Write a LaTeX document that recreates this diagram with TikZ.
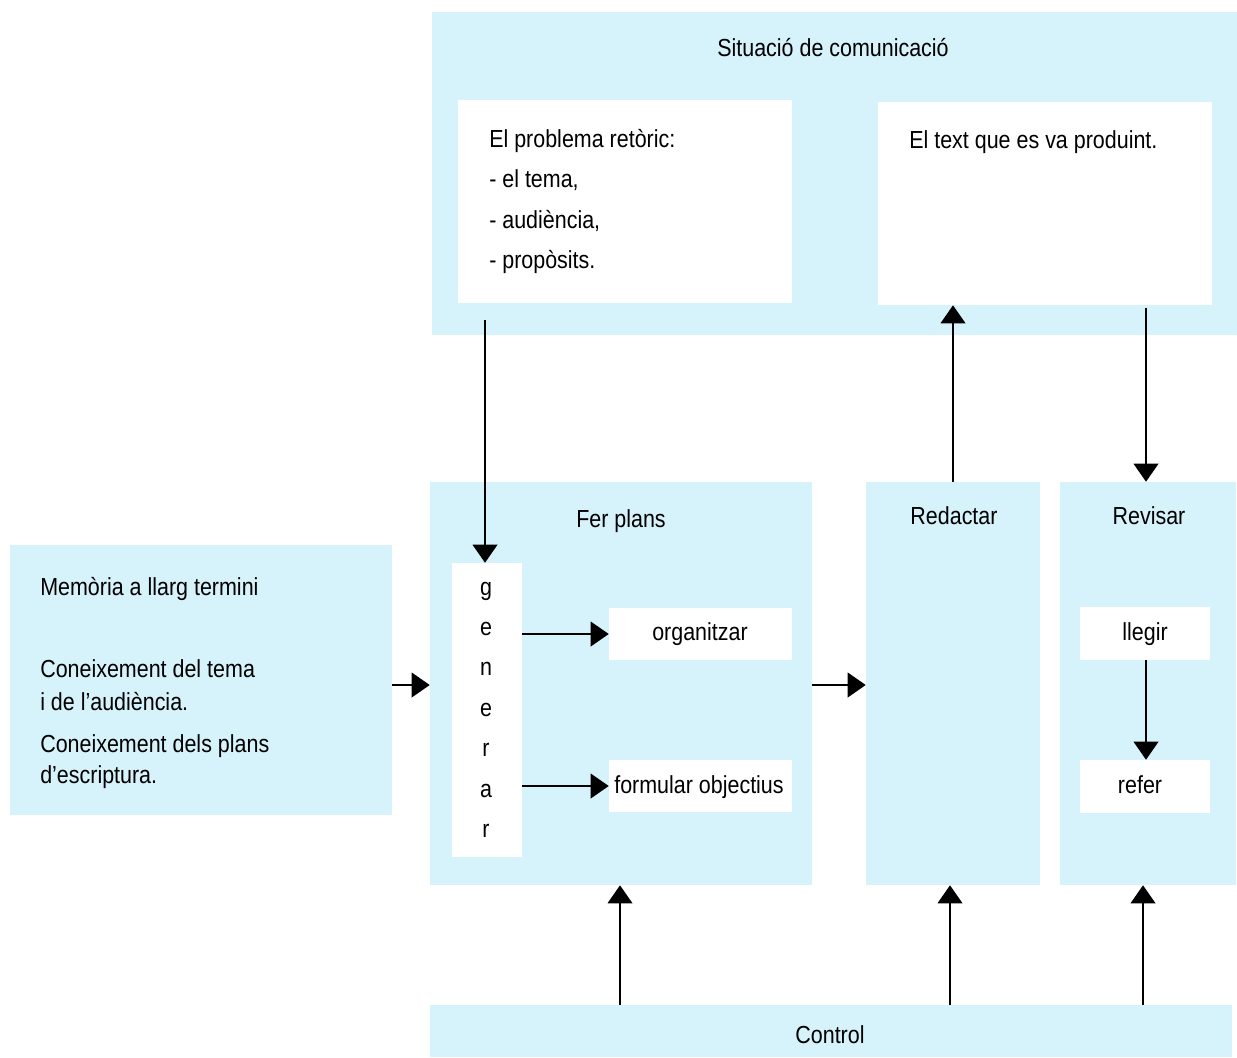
\documentclass[tikz,border=0pt]{standalone}
\usepackage{fontspec}
\setmainfont{Liberation Sans}[FakeStretch=0.87]
\usetikzlibrary{arrows.meta,fit}
\definecolor{panelblue}{RGB}{214,242,250}
\tikzset{
  panel/.style={fill=panelblue, draw=none, inner sep=0pt},
  whitebox/.style={fill=white, draw=none, inner sep=0pt},
  lbl/.style={inner sep=0pt, font=\fontsize{18.5}{21}\selectfont},
  arr/.style={line width=1.1pt, -{Triangle[length=13.5pt,width=18.5pt]}},
}
\begin{document}
\begin{tikzpicture}[x=0.75pt,y=-0.75pt]
\useasboundingbox[fill=white] (0,0) rectangle (1237,1057);
% panels
\node[panel, fit={(432,12) (1237,335)}] (sit) {};
\node[whitebox, fit={(458,100) (792,303)}] (prob) {};
\node[whitebox, fit={(878,102) (1212,305)}] (txt) {};
\node[panel, fit={(10,545) (392,815)}] (mem) {};
\node[panel, fit={(430,482) (812,885)}] (fer) {};
\node[whitebox, fit={(452,563) (522,857)}] (gen) {};
\node[whitebox, fit={(609,608) (792,660)}] (org) {};
\node[whitebox, fit={(609,760) (792,812)}] (form) {};
\node[panel, fit={(866,482) (1040,885)}] (red) {};
\node[panel, fit={(1060,482) (1236,885)}] (rev) {};
\node[whitebox, fit={(1080,607) (1210,660)}] (lleg) {};
\node[whitebox, fit={(1080,760) (1210,813)}] (ref) {};
\node[panel, fit={(430,1005) (1232,1057)}] (ctl) {};
% texts
\node[lbl, anchor=base] (tsit) at (833,56) {Situació de comunicació};
\node[lbl, anchor=base west] (tp1) at (489,147) {El problema retòric:};
\node[lbl, anchor=base west] (tp2) at (489,187) {- el tema,};
\node[lbl, anchor=base west] (tp3) at (489,228) {- audiència,};
\node[lbl, anchor=base west] (tp4) at (489,268) {- propòsits.};
\node[lbl, anchor=base west] (ttxt) at (909,148) {El text que es va produint.};
\node[lbl, anchor=base west] (tm1) at (40,595) {Memòria a llarg termini};
\node[lbl, anchor=base west] (tm2) at (40,677) {Coneixement del tema};
\node[lbl, anchor=base west] (tm3) at (40,710) {i de l’audiència.};
\node[lbl, anchor=base west] (tm4) at (40,752) {Coneixement dels plans};
\node[lbl, anchor=base west] (tm5) at (40,783) {d’escriptura.};
\node[lbl, anchor=base] (tfer) at (621,527) {Fer plans};
\node[lbl, anchor=base] (tred) at (954,524) {Redactar};
\node[lbl, anchor=base] (trev) at (1149,524) {Revisar};
\node[lbl, anchor=base] (g1) at (486,595) {g};
\node[lbl, anchor=base] (g2) at (486,635) {e};
\node[lbl, anchor=base] (g3) at (486,675) {n};
\node[lbl, anchor=base] (g4) at (486,716) {e};
\node[lbl, anchor=base] (g5) at (486,756) {r};
\node[lbl, anchor=base] (g6) at (486,797) {a};
\node[lbl, anchor=base] (g7) at (486,837) {r};
\node[lbl, anchor=base] (torg) at (700,640) {organitzar};
\node[lbl, anchor=base] (tform) at (699,793) {formular objectius};
\node[lbl, anchor=base] (tlleg) at (1145,640) {llegir};
\node[lbl, anchor=base] (tref) at (1140,793) {refer};
\node[lbl, anchor=base] (tctl) at (830,1043) {Control};
% free ends
\coordinate (a1) at (485,320);
\coordinate (a3) at (1146,308);
\coordinate (m1) at (392,685);
\coordinate (c1) at (620,1005);
\coordinate (c2) at (950,1005);
\coordinate (c3) at (1143,1005);
% connectors
\draw[arr] (a1) -- (a1 |- gen.north);
\draw[arr] (red.north) -- (red.north |- txt.south);
\draw[arr] (a3) -- (a3 |- rev.north);
\draw[arr] (m1) -- (m1 -| fer.west);
\draw[arr] (gen.east |- org.west) -- (org.west);
\draw[arr] (gen.east |- form.west) -- (form.west);
\draw[arr] (fer.east |- m1) -- (m1 -| red.west);
\draw[arr] (lleg.south -| a3) -- (ref.north -| a3);
\draw[arr] (c1) -- (c1 |- fer.south);
\draw[arr] (c2) -- (c2 |- red.south);
\draw[arr] (c3) -- (c3 |- rev.south);
\end{tikzpicture}
\end{document}
